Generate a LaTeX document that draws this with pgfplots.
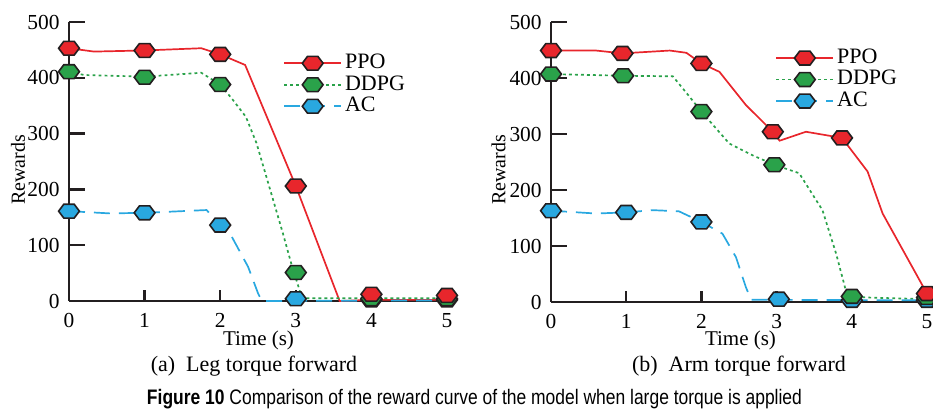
\documentclass[border=0pt]{standalone}
\usepackage{fontspec}
\setmainfont{Liberation Serif}
\newfontfamily\capfont{Liberation Sans}
\usepackage{graphicx}
\usepackage{pgfplots}
\pgfplotsset{compat=1.18}
\definecolor{pred}{RGB}{232,38,44}
\definecolor{pgreen}{RGB}{42,162,74}
\definecolor{pblue}{RGB}{41,168,224}
\definecolor{axgray}{RGB}{35,31,32}
\pgfdeclareplotmark{hex}{%
  \pgfpathmoveto{\pgfqpoint{5.2pt}{0pt}}%
  \pgfpathlineto{\pgfqpoint{2.6pt}{3.45pt}}%
  \pgfpathlineto{\pgfqpoint{-2.6pt}{3.45pt}}%
  \pgfpathlineto{\pgfqpoint{-5.2pt}{0pt}}%
  \pgfpathlineto{\pgfqpoint{-2.6pt}{-3.45pt}}%
  \pgfpathlineto{\pgfqpoint{2.6pt}{-3.45pt}}%
  \pgfpathclose
  \pgfusepathqfillstroke}
\pgfplotsset{
  ppol/.style={draw=pred, line width=0.85pt, solid},
  ddpgl/.style={draw=pgreen, line width=0.85pt, dash pattern=on 1.4pt off 1.6pt},
  acl/.style={draw=pblue, line width=0.85pt, dash pattern=on 8pt off 4.5pt},
  hexm/.style={mark=hex, mark options={fill=#1, draw=axgray, line width=0.8pt, solid}},
  myaxis/.style={
    scale only axis,
    xmin=0, xmax=5, ymin=0, ymax=500,
    axis lines=left,
    axis line style={-, line width=1.2pt, axgray},
    xtick={0,1,2,3,4,5},
    ytick={0,100,200,300,400,500},
    tick align=inside,
    major tick length=8pt,
    xtick style={/pgfplots/major tick length=5.5pt},
    tick style={line width=1.2pt, axgray},
    tick label style={font=\fontsize{10.7}{12}\selectfont},
    /pgf/number format/assume math mode=true,
    yticklabel style={anchor=east, inner sep=0pt, xshift=-4.5pt},
    xticklabel style={anchor=north, inner sep=0pt, yshift=-6pt},
    clip=false,
    legend image code/.code={\draw[mark repeat=2,mark phase=2,##1] plot coordinates {(0pt,0pt) (14.25pt,0pt) (28.5pt,0pt)};},
    legend cell align=left,
    legend style={draw=none, fill=none, inner sep=0pt, column sep=1.5pt, row sep=0pt,
      font=\fontsize{11}{12}\selectfont,
      nodes={inner sep=0pt, text height=8pt, text depth=2.75pt}},
  }
}
\begin{document}
\begin{tikzpicture}
\useasboundingbox (0,0) rectangle (466.5pt,-205pt);
% ---------------- (a) ----------------
\begin{axis}[myaxis, at={(34.5pt,-150.5pt)}, anchor=south west, width=189pt, height=139.5pt,
  legend style={at={(rel axis cs:0.566,0.892)}, anchor=north west}]
\addplot[ppol, forget plot] coordinates {(0,453) (0.33,447) (1,449) (1.75,453) (2,442) (2.33,423) (3,206) (3.58,0) (4,2) (5,2)};
\addplot[ddpgl, forget plot] coordinates {(0,411) (0.2,405) (1,402) (1.75,409) (2,388) (2.17,360) (2.34,330) (2.48,283) (2.61,223) (2.83,121) (2.94,67) (3.06,15) (3.1,5) (5,5)};
\addplot[acl, forget plot] coordinates {(0,161) (0.54,157) (1,158) (1.82,163) (2,136) (2.13,121) (2.37,61) (2.5,14) (2.55,0) (5,1)};
\addplot[only marks, hexm=pblue, forget plot] coordinates {(0,161) (1,158) (2,136) (3,4) (4,2) (5,2)};
\addplot[only marks, hexm=pgreen, forget plot] coordinates {(0,411) (1,401) (2,388) (3,51) (4,4) (5,4)};
\addplot[only marks, hexm=pred, forget plot] coordinates {(0,453) (1,449) (2,442) (3,206) (4,12) (5,10)};
\addlegendimage{ppol, hexm=pred}\addlegendentry{PPO}
\addlegendimage{ddpgl, hexm=pgreen}\addlegendentry{DDPG}
\addlegendimage{acl, hexm=pblue}\addlegendentry{AC}
\end{axis}
% ---------------- (b) ----------------
\begin{axis}[myaxis, at={(275.5pt,-151pt)}, anchor=south west, width=188pt, height=140pt,
  legend style={at={(rel axis cs:0.596,0.911)}, anchor=north west}]
\addplot[ppol, forget plot] coordinates {(0,449) (0.6,449) (0.95,444) (1.58,449) (1.8,445) (2,426) (2.24,411) (2.59,352) (2.95,304) (3.04,288) (3.39,304) (3.87,293) (4.21,233) (4.41,158) (5,15)};
\addplot[ddpgl, forget plot] coordinates {(0,407) (0.96,404) (1.62,403) (1.84,367) (2,340) (2.37,283) (2.68,262) (2.97,245) (3.3,230) (3.61,164) (3.79,87) (3.92,21) (4,10) (4.2,8) (5,5)};
\addplot[acl, forget plot] coordinates {(0,163) (0.6,158) (1,160) (1.35,164) (1.7,162) (2,143) (2.28,122) (2.46,80) (2.59,27) (2.66,4) (5,3)};
\addplot[only marks, hexm=pblue, forget plot] coordinates {(0,163) (1,160) (2,143) (3.03,5) (4,3) (5,3)};
\addplot[only marks, hexm=pgreen, forget plot] coordinates {(0,407) (0.96,404) (2,340) (2.97,245) (4,10) (5,8)};
\addplot[only marks, hexm=pred, forget plot] coordinates {(0,449) (0.95,444) (2,426) (2.95,304) (3.87,293) (5,15)};
\addlegendimage{ppol, hexm=pred}\addlegendentry{PPO}
\addlegendimage{ddpgl, hexm=pgreen}\addlegendentry{DDPG}
\addlegendimage{acl, hexm=pblue}\addlegendentry{AC}
\end{axis}
% ---------------- texts ----------------
\node[rotate=90, inner sep=0pt, font=\fontsize{10}{12}\selectfont] at (9pt,-85pt) {Rewards};
\node[rotate=90, inner sep=0pt, font=\fontsize{10}{12}\selectfont] at (249.25pt,-85pt) {Rewards};
\node[inner sep=0pt, font=\fontsize{10.5}{12}\selectfont] at (129.25pt,-170pt) {Time (s)};
\node[inner sep=0pt, font=\fontsize{10.5}{12}\selectfont] at (370.25pt,-170pt) {Time (s)};
\node[inner sep=0pt, font=\fontsize{11}{13}\selectfont] at (127pt,-183pt) {(a)\ \ Leg torque forward};
\node[inner sep=0pt, font=\fontsize{11}{13}\selectfont] at (369.5pt,-183pt) {(b)\ \ Arm torque forward};
\node[inner sep=0pt, anchor=base, font=\capfont\fontsize{10.5}{12}\selectfont] at (237.25pt,-202.5pt)
  {\resizebox{327.5pt}{\height}{\textbf{Figure 10} Comparison of the reward curve of the model when large torque is applied}};
\end{tikzpicture}
\end{document}
